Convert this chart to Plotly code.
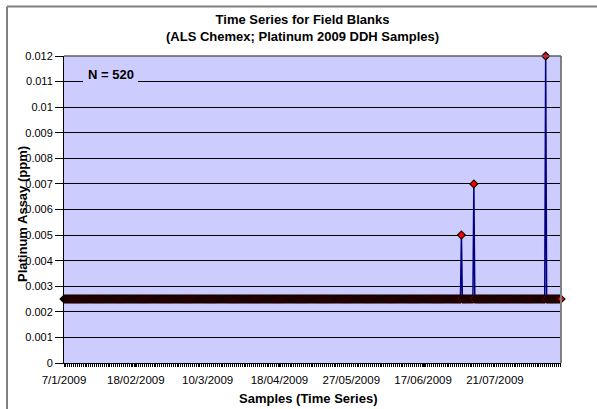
import plotly.graph_objects as go

# ---- data ----
n_samples = 520
base_value = 0.0025
spike_index = [415, 428, 503]
spike_value = [0.005, 0.007, 0.012]
tick_index = [0, 75, 150, 225, 300, 375, 450]
tick_labels = ["7/1/2009", "18/02/2009", "10/3/2009", "18/04/2009",
               "27/05/2009", "17/06/2009", "21/07/2009"]
y_ticks = [0, 0.001, 0.002, 0.003, 0.004, 0.005, 0.006, 0.007, 0.008,
           0.009, 0.01, 0.011, 0.012]
y_labels = ["0", "0.001", "0.002", "0.003", "0.004", "0.005", "0.006",
            "0.007", "0.008", "0.009", "0.01", "0.011", "0.012"]

sample_idx = list(range(n_samples))
assay = [base_value] * n_samples
for i, v in zip(spike_index, spike_value):
    assay[i] = v

# ---- layout geometry (pixels) ----
W, H = 597, 409
L, R, T, B = 64, 36, 56, 46
PW, PH = W - L - R, H - T - B


def px(x):
    return (x - L) / PW


def py(y):
    return (H - B - y) / PH


FONT = "Liberation Sans, Arial, sans-serif"

fig = go.Figure()
fig.add_trace(go.Scatter(
    x=sample_idx, y=assay, mode="lines+markers",
    line=dict(color="#000080", width=1.5),
    marker=dict(symbol="diamond", size=6, color="#FF0000",
                line=dict(color="#1a0000", width=1.2)),
    showlegend=False, cliponaxis=False,
))

fig.update_layout(
    width=W, height=H,
    margin=dict(l=L, r=R, t=T, b=B),
    paper_bgcolor="white", plot_bgcolor="#CCCCFF",
    font=dict(family=FONT, color="black"),
    xaxis=dict(range=[0, n_samples - 1], tickvals=tick_index, ticktext=tick_labels,
               tickfont=dict(size=11.5, family=FONT), showgrid=False, zeroline=False,
               showline=True, linecolor="black", linewidth=1,
               ticks="outside", ticklen=3, tickcolor="black", ticklabelstandoff=3,
               minor=dict(dtick=2, ticks="outside", ticklen=3, tickcolor="black", showgrid=False)),
    yaxis=dict(range=[0, 0.012], tickvals=y_ticks, ticktext=y_labels,
               tickfont=dict(size=11, family=FONT), showgrid=True, gridcolor="black",
               gridwidth=1, zeroline=False, showline=True, linecolor="black",
               ticks="outside", ticklen=8, tickcolor="black"),
)

# chart title
fig.add_annotation(text="<b>Time Series for Field Blanks<br>(ALS Chemex; Platinum 2009 DDH Samples)</b>",
                   xref="paper", yref="paper", x=px(302), y=py(28),
                   xanchor="center", yanchor="middle", showarrow=False,
                   font=dict(size=13, family=FONT))

# x axis title
fig.add_annotation(text="<b>Samples (Time Series)</b>", xref="paper", yref="paper",
                   x=px(308), y=py(398), xanchor="center", yanchor="middle",
                   showarrow=False, font=dict(size=13, family=FONT))

# y axis title (overlapping tick labels as in original)
fig.add_annotation(text="<b>Platinum Assay (ppm)</b>", textangle=-90,
                   xref="paper", yref="paper", x=px(22), y=py(214),
                   xanchor="center", yanchor="middle",
                   showarrow=False, font=dict(size=13, family=FONT))

# N = 520 label box
fig.add_shape(type="rect", xref="paper", yref="paper", layer="above",
              x0=px(83), x1=px(138), y0=py(84), y1=py(67),
              fillcolor="#CCCCFF", line=dict(width=0))
fig.add_annotation(text="<b>N = 520</b>", xref="paper", yref="paper",
                   x=px(111), y=py(74), xanchor="center", yanchor="middle",
                   showarrow=False, font=dict(size=13, family=FONT))

# plot area border top/right
fig.add_shape(type="line", xref="paper", yref="paper", x0=1, x1=1, y0=0, y1=1,
              line=dict(color="#808080", width=2), layer="above")
fig.add_shape(type="line", xref="paper", yref="paper", x0=0, x1=1, y0=1, y1=1,
              line=dict(color="#606060", width=1.5), layer="above")

# outer chart border
fig.add_shape(type="line", xref="paper", yref="paper", x0=px(7), x1=px(W + 5),
              y0=py(6.5), y1=py(6.5), line=dict(color="#808080", width=2))
fig.add_shape(type="line", xref="paper", yref="paper", x0=px(7), x1=px(7),
              y0=py(6.5), y1=py(H + 5), line=dict(color="#808080", width=2))

fig.write_html("out.html", config={"displayModeBar": False},
               post_script="document.body.style.margin='0';document.body.style.padding='0';")
